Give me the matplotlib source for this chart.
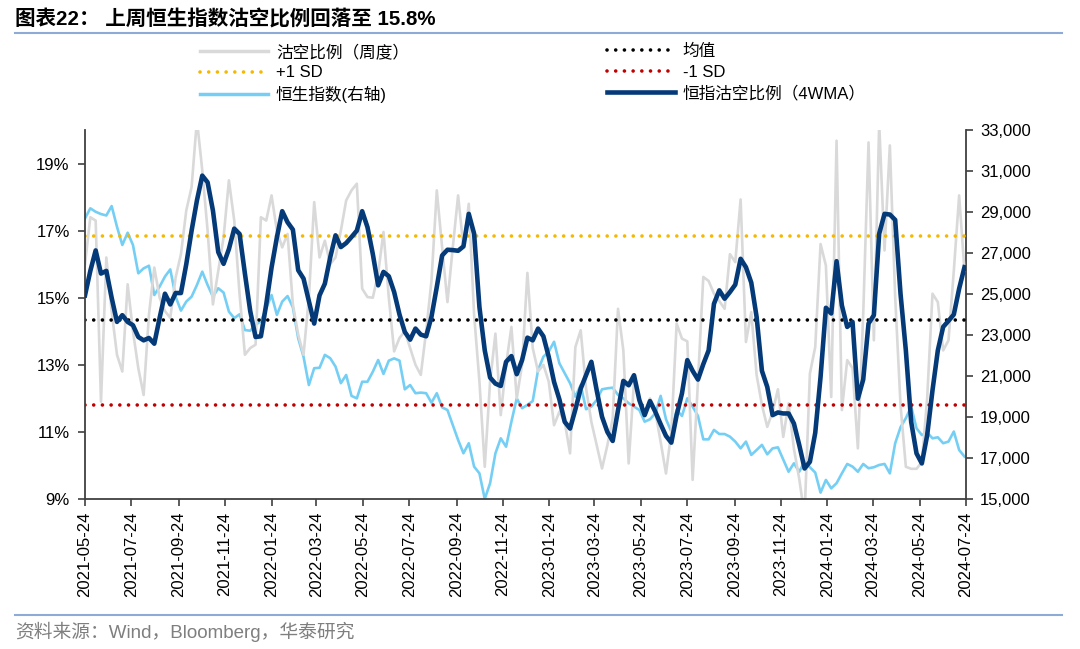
import matplotlib
matplotlib.use('Agg')
import matplotlib.pyplot as plt
import pandas as pd
from matplotlib.lines import Line2D
from matplotlib.ticker import FuncFormatter

plt.rcParams['font.family'] = ['Liberation Sans', 'Noto Sans CJK SC']
plt.rcParams['axes.unicode_minus'] = False

# ---------------- data ----------------
START_DATE = '2021-05-24'

short_weekly = [
    16.0, 17.4, 17.3, 11.9, 16.2, 14.6, 13.3, 12.8, 15.4, 14.0,
    12.9, 12.1, 14.5, 15.9, 15.0, 14.6, 14.4, 15.6, 16.3, 17.6,
    18.3, 20.3, 18.8, 17.0, 14.8, 15.8, 16.8, 18.5, 17.3, 15.1,
    13.3, 13.5, 13.6, 17.4, 17.3, 18.05, 17.0, 16.5, 16.9, 14.8,
    13.9, 13.3, 15.0, 17.85, 16.2, 16.7, 16.0, 16.2, 17.0, 17.9,
    18.2, 18.4, 15.27, 15.02, 15.0, 15.72, 16.96, 15.0, 13.4, 13.8,
    14.0, 13.5, 13.0, 12.7, 14.0, 15.5, 18.2, 16.5, 14.87, 16.5,
    18.05, 16.5, 17.8, 14.5, 12.5, 9.96, 12.5, 13.93, 11.5, 13.0,
    14.13, 12.0, 13.0, 15.74, 13.5, 12.8, 13.0, 12.5, 11.2, 11.6,
    11.3, 10.36, 13.53, 14.03, 12.3, 11.3, 10.6, 9.91, 10.6, 11.4,
    14.67, 13.43, 10.06, 12.5, 12.0, 11.5, 12.0, 11.6, 10.7, 9.76,
    11.0, 14.23, 13.78, 13.7, 9.57, 12.5, 15.62, 15.5, 15.12, 14.9,
    14.67, 16.3, 16.06, 17.93, 13.68, 14.57, 12.7, 11.8, 11.15, 11.6,
    12.27, 10.85, 11.85, 10.5, 9.6, 8.5, 12.74, 13.53, 16.6, 15.96,
    12.04, 19.68, 11.65, 13.14, 12.9, 10.51, 14.5, 19.63, 13.73, 20.2,
    16.41, 19.54, 15.02, 11.8, 9.96, 9.9, 9.9, 10.1, 12.0, 15.12,
    14.87, 13.43, 13.73, 15.8, 18.05, 15.8,
]

short_4wma = [
    15.07, 15.8, 16.41, 15.72, 15.80, 15.0, 14.28, 14.48, 14.28, 14.18,
    13.83, 13.73, 13.80, 13.63, 14.4, 15.12, 14.80, 15.14, 15.14, 16.0,
    17.0, 17.9, 18.64, 18.44, 17.6, 16.36, 16.01, 16.45, 17.06, 16.9,
    15.72, 14.6, 13.83, 13.85, 14.8, 15.9, 16.8, 17.58, 17.25, 17.03,
    15.82, 15.57, 14.9, 14.23, 15.07, 15.42, 16.2, 16.86, 16.51, 16.63,
    16.81, 17.0, 17.58, 17.1, 16.3, 15.37, 15.77, 15.64, 15.17, 14.5,
    13.98, 13.75, 14.08, 13.9, 13.85, 14.43, 15.32, 16.26, 16.43, 16.42,
    16.4, 16.53, 17.5, 16.91, 14.72, 13.43, 12.62, 12.44, 12.37, 13.09,
    13.26, 12.72, 13.14, 13.81, 13.73, 14.08, 13.85, 13.24, 12.49, 11.97,
    11.3, 11.1, 11.67, 12.29, 12.69, 13.09, 12.24, 11.45, 11.0, 10.73,
    11.65, 12.52, 12.39, 12.69, 11.95, 11.5, 11.92, 11.6, 11.23, 10.88,
    10.68, 11.5, 12.15, 13.14, 12.82, 12.56, 13.02, 13.43, 14.82, 15.22,
    14.97, 15.17, 15.39, 16.16, 15.91, 15.45, 14.43, 12.82, 12.34, 11.5,
    11.58, 11.55, 11.55, 11.25, 10.61, 9.91, 10.11, 10.97, 12.64, 14.7,
    14.53, 16.09, 14.77, 14.13, 14.28, 11.99, 12.56, 14.23, 14.48, 16.91,
    17.5, 17.48, 17.32, 15.12, 13.43, 11.3, 10.36, 10.06, 10.9, 12.24,
    13.43, 14.13, 14.31, 14.5, 15.27, 15.91,
]

hsi = [
    28690, 29180, 29010, 28900, 28830, 29290, 28280, 27390, 27990, 27390,
    26010, 26250, 26380, 24950, 25360, 25850, 26200, 24870, 24190, 24630,
    24870, 25440, 26090, 25440, 24870, 25280, 25070, 24140, 23820, 24010,
    23240, 23210, 23490, 23680, 24300, 24950, 23980, 24630, 24900, 24350,
    22840, 21940, 20560, 21380, 21400, 22030, 21870, 21460, 20650, 21050,
    20030, 19910, 20720, 20720, 21210, 21780, 21100, 21750, 21860, 21750,
    20350, 20560, 20160, 20190, 20160, 19700, 20160, 19470, 19340, 18610,
    17880, 17230, 17720, 16580, 16250, 15000, 15770, 17230, 17960, 17550,
    18770, 19910, 19430, 19590, 19780, 21290, 21940, 22190, 22670, 21620,
    21130, 20650, 19990, 20560, 19380, 19510, 19830, 20350, 20400, 20430,
    20080, 19910, 19670, 19510, 19340, 18770, 18890, 19180, 20030, 18890,
    18290, 19340, 19050, 19910, 19510, 19050, 17910, 17910, 18370, 18170,
    18170, 18040, 17800, 17470, 17800, 17150, 17390, 17640, 17180, 17470,
    17520, 16920, 16330, 16740, 16330, 16820, 16550, 16290, 15310, 15930,
    15520, 15770, 16250, 16710, 16580, 16330, 16710, 16500, 16550, 16660,
    16710, 16250, 17720, 18500, 18940, 19510, 18450, 18120, 18240, 17960,
    18010, 17720, 17800, 18290, 17390, 17070,
]

MEAN = 14.33
PLUS_1SD = 16.83
MINUS_1SD = 11.80

XTICKS = ['2021-05-24', '2021-07-24', '2021-09-24', '2021-11-24', '2022-01-24',
          '2022-03-24', '2022-05-24', '2022-07-24', '2022-09-24', '2022-11-24',
          '2023-01-24', '2023-03-24', '2023-05-24', '2023-07-24', '2023-09-24',
          '2023-11-24', '2024-01-24', '2024-03-24', '2024-05-24', '2024-07-24']
LEFT_TICKS = [9, 11, 13, 15, 17, 19]
RIGHT_TICKS = [15000, 17000, 19000, 21000, 23000, 25000, 27000, 29000, 31000, 33000]

TITLE = '图表22： 上周恒生指数沽空比例回落至 15.8%'
SOURCE = '资料来源：Wind，Bloomberg，华泰研究'
LABELS = ['沽空比例（周度）', '+1 SD', '恒生指数(右轴)', '均值', '-1 SD', '恒指沽空比例（4WMA）']

# ---------------- styles ----------------
C_GREY = '#d9d9d9'
C_HSI = '#75cff4'
C_NAVY = '#053a78'
C_MEAN = '#000000'
C_PLUS = '#f5b800'
C_MINUS = '#c00000'
C_RULE = '#8eaad6'
DOT = (0, (0.01, 2.4))

dates = pd.date_range(START_DATE, periods=len(short_weekly), freq='7D')

W, H = 1080, 649
fig = plt.figure(figsize=(W / 100, H / 100), dpi=100)
ax = fig.add_axes([85 / W, 1 - 499 / H, (966 - 85) / W, (499 - 130) / H])
ax2 = ax.twinx()
ax.set_zorder(ax2.get_zorder() + 1)
ax.patch.set_visible(False)

ax2.plot(dates, hsi, color=C_HSI, lw=1.9, zorder=2, solid_joinstyle='round')
ax.plot(dates, short_weekly, color=C_GREY, lw=1.9, zorder=1, solid_joinstyle='round')
for val, col in [(MEAN, C_MEAN), (PLUS_1SD, C_PLUS), (MINUS_1SD, C_MINUS)]:
    ax.axhline(val, color=col, lw=2.6, ls=DOT, dash_capstyle='round', zorder=2)
ax.plot(dates, short_4wma, color=C_NAVY, lw=3.3, zorder=4, solid_joinstyle='round')

ax.set_xlim(pd.Timestamp(XTICKS[0]), pd.Timestamp(XTICKS[-1]))
ax.set_ylim(9, 20)
ax.set_yticks(LEFT_TICKS)
ax.yaxis.set_major_formatter(FuncFormatter(lambda v, p: f'{v:.0f}%'))
ax2.set_ylim(15000, 33000)
ax2.set_yticks(RIGHT_TICKS)
ax2.yaxis.set_major_formatter(FuncFormatter(lambda v, p: f'{v:,.0f}'))

ax.set_xticks(pd.to_datetime(XTICKS))
ax.set_xticklabels(XTICKS, rotation=90)

spine_c = '#404040'
for a in (ax, ax2):
    a.spines['top'].set_visible(False)
    for s in ('left', 'right', 'bottom'):
        a.spines[s].set_color(spine_c)
        a.spines[s].set_linewidth(1.3)
ax.spines['right'].set_visible(False)
ax2.spines['left'].set_visible(False)
ax2.spines['bottom'].set_visible(False)

ax.tick_params(axis='both', direction='out', length=5, width=1.2, color=spine_c,
               labelsize=12, labelcolor='black')
ax.tick_params(axis='y', pad=6)
ax.tick_params(axis='x', pad=4)
ax2.tick_params(axis='y', direction='out', length=5, width=1.2, color=spine_c,
                labelsize=12, labelcolor='black', pad=5)

# legend: two columns placed separately
def handle(col, lw, ls='-'):
    return Line2D([], [], color=col, lw=lw, ls=ls, dash_capstyle='round')

h1 = [handle(C_GREY, 2.5), handle(C_PLUS, 2.6, DOT), handle(C_HSI, 2.5)]
h2 = [handle(C_MEAN, 2.6, DOT), handle(C_MINUS, 2.6, DOT), handle(C_NAVY, 3.3)]
leg_kw = dict(frameon=False, fontsize=12, handlelength=4.05, handletextpad=0.5,
              borderpad=0, borderaxespad=0, labelspacing=0.33, loc='upper left')
fig.legend(h1, LABELS[:3], bbox_to_anchor=(200 / W, 1 - 44 / H), **leg_kw)
fig.legend(h2, LABELS[3:], bbox_to_anchor=(607 / W, 1 - 44 / H), **leg_kw)

# title, rules, source
fig.text(15 / W, 1 - 19 / H, TITLE, fontsize=14.8, weight='bold', va='center', ha='left')
fig.add_artist(Line2D([15 / W, 1062 / W], [1 - 33 / H] * 2, color=C_RULE, lw=1.5))
fig.add_artist(Line2D([15 / W, 1062 / W], [1 - 615 / H] * 2, color=C_RULE, lw=1.5))
fig.text(15 / W, 1 - 632 / H, SOURCE, fontsize=13.5, color='#7f7f7f', va='center', ha='left')

fig.savefig('out.png', dpi=100)
